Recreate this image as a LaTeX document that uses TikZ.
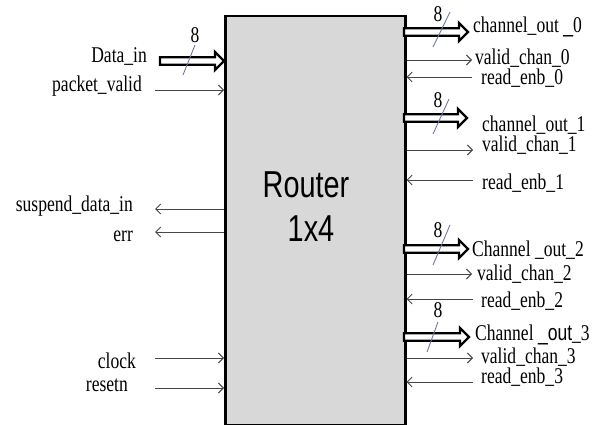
\documentclass[tikz,border=0pt]{standalone}
\usepackage{fontspec}
\setmainfont{Liberation Serif}
\newfontfamily\arialf{Liberation Sans}
\usetikzlibrary{arrows.meta,calc}
\definecolor{boxgray}{RGB}{216,216,216}
\definecolor{sigcol}{RGB}{70,70,70}
\definecolor{slashcol}{RGB}{110,120,160}
\newcommand{\lblfont}{\fontsize{22.5}{26}\selectfont}
\newcommand{\bigfont}{\arialf\fontsize{37.5}{44}\selectfont}
\tikzset{
  box/.style={draw=black, line width=2.5pt, fill=boxgray, inner sep=0pt,
    minimum width=180pt, minimum height=409pt, anchor=north west},
  sig/.style={draw=sigcol, line width=0.9pt, -{Straight Barb[length=5pt,width=10pt]}},
  bus/.style={draw=black, line width=2.3pt, fill=white, line join=miter},
  slash/.style={draw=slashcol, line width=0.9pt},
  lbl/.style={font=\lblfont, inner sep=0pt, xscale=0.78},
  lbll/.style={lbl, anchor=base east},
  lblr/.style={lbl, anchor=base west},
  big/.style={font=\bigfont, inner sep=0pt, xscale=0.77, anchor=base},
  busarrow/.style 2 args={insert path={
    let \p1=(#1), \p2=(#2) in
    (\x1,\y1+3.8pt) -- (\x2-9pt,\y1+3.8pt) -- (\x2-9pt,\y1+9pt) -- (\x2,\y1)
    -- (\x2-9pt,\y1-9pt) -- (\x2-9pt,\y1-3.8pt) -- (\x1,\y1-3.8pt) -- cycle}}
}
\begin{document}
\begin{tikzpicture}[x=1pt,y=-1pt]
\useasboundingbox (0,0) rectangle (595,425);

% router box
\node[box] (R) at (224,15) {};
\node[big] (t1) at (306,197) {Router};
\node[big] (t2) at (311,242) {1x4};

% ---------- left side ----------
\coordinate (din) at (160,61);
\coordinate (dinE) at (224,61);
\draw[bus, busarrow={din}{dinE}];
\coordinate (ds1) at (183,75); \coordinate (ds2) at (195,45);
\draw[slash] (ds1) -- (ds2);
\node[font=\lblfont, inner sep=0pt, xscale=0.78] (d8) at (195,35) {8};
\node[lbll] (ldin) at (147,63) {Data\_in};

\coordinate (pv) at (155,90);
\draw[sig] (pv) -- (pv -| R.west);
\node[lbll] (lpv) at (142,92) {packet\_valid};

\coordinate (sd) at (155,209);
\draw[sig] (sd -| R.west) -- (sd);
\node[lbll] (lsd) at (133,212) {suspend\_data\_in};

\coordinate (er) at (155,232);
\draw[sig] (er -| R.west) -- (er);
\node[lbll] (ler) at (133,242) {err};

\coordinate (ck) at (155,358);
\draw[sig] (ck) -- (ck -| R.west);
\node[lbll] (lck) at (136,368) {clock};

\coordinate (rs) at (155,388);
\draw[sig] (rs) -- (rs -| R.west);
\node[lbll] (lrs) at (128,391) {resetn};

% ---------- right side ----------
% channel 0
\coordinate (c0) at (404,32); \coordinate (c0e) at (468,32);
\draw[bus, busarrow={c0}{c0e}];
\coordinate (s0a) at (433,47); \coordinate (s0b) at (450,12);
\draw[slash] (s0a) -- (s0b);
\node[font=\lblfont, inner sep=0pt, xscale=0.78] (n0) at (438,14) {8};
\node[lblr] (lc0) at (473,33) {channel\_out {\arialf\_}0};

\coordinate (v0) at (472,60);
\draw[sig] (v0 -| R.east) -- (v0);
\node[lblr] (lv0) at (475,65) {valid\_chan\_0};
\coordinate (r0) at (472,77);
\draw[sig] (r0) -- (r0 -| R.east);
\node[lblr] (lr0) at (481,85) {read\_enb\_0};

% channel 1
\coordinate (c1) at (404,118); \coordinate (c1e) at (467,118);
\draw[bus, busarrow={c1}{c1e}];
\coordinate (s1a) at (433,134); \coordinate (s1b) at (449,99);
\draw[slash] (s1a) -- (s1b);
\node[font=\lblfont, inner sep=0pt, xscale=0.78] (n1) at (438,100) {8};
\node[lblr] (lc1) at (482,132) {channel\_out\_1};

\coordinate (v1) at (473,150);
\draw[sig] (v1 -| R.east) -- (v1);
\node[lblr] (lv1) at (482,152) {valid\_chan\_1};
\coordinate (r1) at (473,180);
\draw[sig] (r1) -- (r1 -| R.east);
\node[lblr] (lr1) at (482,190) {read\_enb\_1};

% channel 2
\coordinate (c2) at (404,249); \coordinate (c2e) at (468,249);
\draw[bus, busarrow={c2}{c2e}];
\coordinate (s2a) at (433,265); \coordinate (s2b) at (450,225);
\draw[slash] (s2a) -- (s2b);
\node[font=\lblfont, inner sep=0pt, xscale=0.78] (n2) at (438,230) {8};
\node[lblr] (lc2) at (472,257) {Channel \_out\_2};

\coordinate (v2) at (472,274);
\draw[sig] (v2 -| R.east) -- (v2);
\node[lblr] (lv2) at (477,280) {valid\_chan\_2};
\coordinate (r2) at (473,299);
\draw[sig] (r2) -- (r2 -| R.east);
\node[lblr] (lr2) at (481,307) {read\_enb\_2};

% channel 3
\coordinate (c3) at (404,337); \coordinate (c3e) at (469,337);
\draw[bus, busarrow={c3}{c3e}];
\coordinate (s3a) at (427,352); \coordinate (s3b) at (438,322);
\draw[slash] (s3a) -- (s3b);
\node[font=\lblfont, inner sep=0pt, xscale=0.78] (n3) at (438,310) {8};
\node[lblr] (lc3) at (475,340) {Channel {\arialf\_out}\_3};

\coordinate (v3) at (473,358);
\draw[sig] (v3 -| R.east) -- (v3);
\node[lblr] (lv3) at (481,363) {valid\_chan\_3};
\coordinate (r3) at (473,382);
\draw[sig] (r3) -- (r3 -| R.east);
\node[lblr] (lr3) at (481,383) {read\_enb\_3};
\end{tikzpicture}
\end{document}
